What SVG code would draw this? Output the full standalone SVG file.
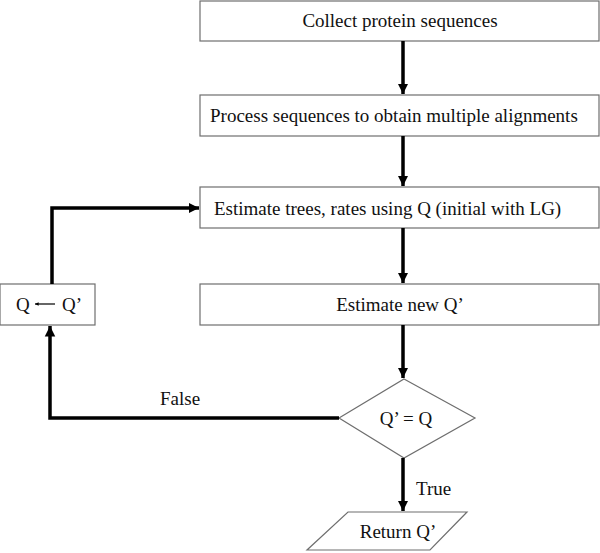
<svg xmlns="http://www.w3.org/2000/svg" width="600" height="553" viewBox="0 0 600 553">
<defs>
<style>
.box{fill:#fff;stroke:#6e6e6e;stroke-width:1.2}
.t{font-family:"Liberation Serif","Times New Roman",serif;font-size:19px;fill:#111}
.c{fill:none;stroke:#000;stroke-width:3.5}
</style>
<marker id="ah" viewBox="0 0 10 10" refX="10" refY="5" markerWidth="3" markerHeight="3.4" orient="auto" markerUnits="strokeWidth">
<path d="M0,0 L10,5 L0,10 z" fill="#000"/>
</marker>
</defs>
<rect width="600" height="553" fill="#fff"/>
<g id="n1"><rect class="box" x="200" y="1" width="399" height="40"/><text class="t" x="400" y="27" text-anchor="middle">Collect protein sequences</text></g>
<g id="n2"><rect class="box" x="200" y="95" width="399" height="41"/><text class="t" x="210" y="122">Process sequences to obtain multiple alignments</text></g>
<g id="n3"><rect class="box" x="200" y="187" width="399" height="41"/><text class="t" x="214" y="215">Estimate trees, rates using Q (initial with LG)</text></g>
<g id="n4"><rect class="box" x="200" y="284" width="399" height="41"/><text class="t" x="400" y="311" text-anchor="middle">Estimate new Q’</text></g>
<g id="n5"><rect class="box" x="0" y="284" width="95" height="41"/><text class="t" x="16" y="311">Q</text><line x1="55" y1="304" x2="35" y2="304" stroke="#000" stroke-width="1.2" marker-end="url(#ah)"/><text class="t" x="62" y="311">Q’</text></g>
<g id="n6"><polygon class="box" points="404,379 475,418 404,458 339,418"/><text class="t" x="406" y="425" text-anchor="middle">Q’ = Q</text></g>
<g id="n7"><polygon class="box" points="348,512 467,512 430,550 307,550"/><text class="t" x="398" y="538" text-anchor="middle">Return Q’</text></g>
<g id="connectors">
<line class="c" x1="403" y1="41" x2="403" y2="94" marker-end="url(#ah)"/>
<line class="c" x1="403" y1="136" x2="403" y2="186" marker-end="url(#ah)"/>
<line class="c" x1="403" y1="228" x2="403" y2="283" marker-end="url(#ah)"/>
<line class="c" x1="403" y1="325" x2="403" y2="378" marker-end="url(#ah)"/>
<line class="c" x1="403" y1="458" x2="403" y2="511" marker-end="url(#ah)"/>
<polyline class="c" points="52,284 52,208 199,208" marker-end="url(#ah)"/>
<polyline class="c" points="339,418 50,418 50,326" marker-end="url(#ah)"/>
<text class="t" x="160" y="405">False</text>
<text class="t" x="416" y="495">True</text>
</g>
</svg>
